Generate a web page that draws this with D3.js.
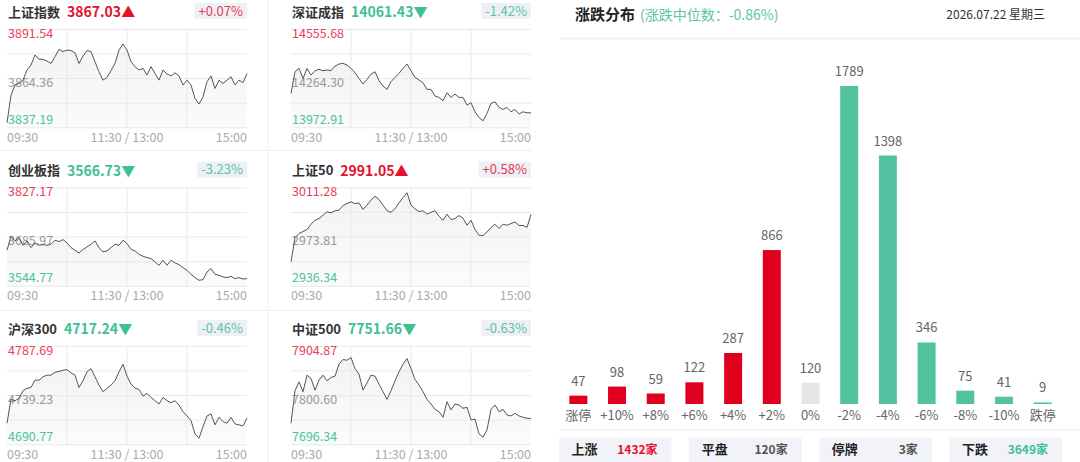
<!DOCTYPE html>
<html>
<head>
<meta charset="utf-8">
<script src="https://cdn.jsdelivr.net/npm/d3@7"></script>
<style>
  html, body { margin: 0; padding: 0; background: #fff; }
  svg { display: block; font-family: "Noto Sans CJK SC", "Noto Sans", sans-serif; }
</style>
</head>
<body>
<svg id="chart" width="1080" height="462"></svg>
<script>
// ---- index panels (minute data sampled every 4 minutes, 09:30 -> 15:00) ----
var indexNames = ["上证指数", "深证成指", "创业板指", "上证50", "沪深300", "中证500"];
var indexCloses = ["3867.03", "14061.43", "3566.73", "2991.05", "4717.24", "7751.66"];
var indexChanges = ["+0.07%", "-1.42%", "-3.23%", "+0.58%", "-0.46%", "-0.63%"];
var axisHigh = [3891.54, 14555.68, 3827.17, 3011.28, 4787.69, 7904.87];
var axisMid = [3864.36, 14264.30, 3685.97, 2973.81, 4739.23, 7800.60];
var axisLow = [3837.19, 13972.91, 3544.77, 2936.34, 4690.77, 7696.34];
var timeLabels = ["09:30", "11:30 / 13:00", "15:00"];

var shIndex = [3840.0, 3855.2, 3860.8, 3861.7, 3863.5, 3869.1, 3871.8, 3877.4, 3875.0, 3875.0,
  3874.0, 3872.7, 3876.4, 3880.5, 3879.2, 3880.1, 3879.8, 3878.6, 3872.7, 3876.8,
  3879.8, 3879.2, 3873.7, 3868.1, 3863.5, 3865.0, 3868.7, 3872.7, 3880.1, 3883.4,
  3880.1, 3873.7, 3870.9, 3869.1, 3870.0, 3866.3, 3870.9, 3867.2, 3863.5, 3869.1,
  3866.9, 3865.8, 3867.6, 3865.8, 3860.8, 3863.5, 3860.8, 3853.4, 3850.3, 3854.3,
  3862.6, 3865.8, 3858.9, 3863.5, 3861.7, 3863.5, 3865.4, 3860.8, 3863.5, 3862.1, 3867.2];
var szIndex = [14176.4, 14304.8, 14324.5, 14265.3, 14324.5, 14285.0, 14310.7, 14318.6, 14310.7, 14314.7,
  14310.7, 14338.4, 14350.2, 14354.2, 14344.3, 14324.5, 14298.9, 14265.3, 14231.7, 14259.4,
  14291.0, 14304.8, 14251.5, 14219.9, 14200.1, 14245.6, 14271.2, 14294.9, 14324.5, 14350.2,
  14310.7, 14271.2, 14255.4, 14239.6, 14200.1, 14200.1, 14160.6, 14152.7, 14132.9, 14180.3,
  14152.7, 14172.4, 14152.7, 14152.7, 14107.2, 14121.1, 14067.7, 14034.1, 14014.4, 14057.9,
  14117.1, 14127.0, 14093.4, 14081.6, 14093.4, 14067.7, 14081.6, 14053.9, 14067.7, 14061.8, 14061.4];
var cybIndex = [3648.2, 3688.4, 3675.0, 3684.5, 3662.5, 3675.0, 3655.8, 3669.2, 3662.5, 3664.4,
  3662.5, 3665.4, 3676.9, 3673.0, 3678.8, 3669.2, 3655.8, 3648.2, 3640.5, 3650.1,
  3657.7, 3665.4, 3675.0, 3655.8, 3643.4, 3646.3, 3655.8, 3665.4, 3662.5, 3676.9,
  3667.3, 3650.9, 3646.3, 3636.7, 3630.9, 3627.1, 3624.2, 3614.7, 3605.1, 3619.4,
  3605.1, 3619.4, 3611.8, 3607.0, 3598.4, 3590.7, 3579.2, 3569.7, 3562.0, 3563.9,
  3585.9, 3595.5, 3579.2, 3576.4, 3571.6, 3569.7, 3573.5, 3566.8, 3569.7, 3565.8, 3566.7];
var sz50Index = [2954.9, 2973.4, 2976.5, 2978.0, 2979.5, 2983.6, 2986.6, 2987.9, 2990.4, 2993.0,
  2992.2, 2993.8, 2994.3, 2997.8, 2999.3, 3000.6, 2999.3, 2999.8, 2994.8, 2998.1,
  3001.9, 3004.9, 3002.4, 2998.1, 2993.8, 2992.7, 2995.3, 2999.8, 3003.9, 3007.5,
  2998.1, 2995.3, 2993.2, 2993.8, 2991.2, 2992.7, 2993.8, 2989.7, 2986.6, 2991.2,
  2987.1, 2987.9, 2990.2, 2988.2, 2982.8, 2986.6, 2979.5, 2975.2, 2974.9, 2977.7,
  2981.1, 2983.6, 2980.3, 2983.6, 2982.8, 2984.1, 2985.3, 2982.6, 2982.6, 2981.1, 2991.1];
var hs300Index = [4712.0, 4735.5, 4734.2, 4736.5, 4744.0, 4746.3, 4747.2, 4754.4, 4754.4, 4757.7,
  4759.3, 4759.3, 4762.2, 4762.9, 4764.2, 4764.8, 4761.6, 4759.3, 4747.2, 4753.8,
  4762.6, 4765.8, 4757.7, 4749.5, 4743.0, 4746.3, 4749.5, 4753.8, 4762.6, 4770.1,
  4758.3, 4750.5, 4746.6, 4745.3, 4738.7, 4741.4, 4737.4, 4734.2, 4730.9, 4737.4,
  4734.2, 4732.2, 4734.2, 4729.9, 4723.4, 4719.2, 4714.6, 4701.5, 4697.3, 4708.7,
  4719.2, 4721.1, 4710.4, 4717.9, 4713.6, 4712.0, 4717.9, 4711.3, 4710.4, 4709.4, 4717.2];
var zz500Index = [7742.0, 7810.8, 7829.8, 7808.7, 7843.8, 7836.8, 7812.2, 7833.3, 7843.8, 7831.8,
  7838.9, 7841.7, 7867.0, 7876.8, 7875.4, 7881.0, 7857.8, 7845.9, 7812.2, 7827.6,
  7843.8, 7841.7, 7824.8, 7808.7, 7792.5, 7810.8, 7831.8, 7850.8, 7867.0, 7878.9,
  7857.8, 7834.7, 7822.7, 7808.7, 7792.5, 7782.7, 7771.5, 7766.5, 7754.6, 7787.6,
  7770.1, 7782.7, 7780.6, 7773.6, 7775.7, 7749.0, 7750.4, 7719.5, 7712.5, 7727.9,
  7771.5, 7780.6, 7766.5, 7771.5, 7759.5, 7757.4, 7763.0, 7757.4, 7754.6, 7752.5, 7751.7];
var indexSeries = [shIndex, szIndex, cybIndex, sz50Index, hs300Index, zz500Index];

// ---- rise / fall distribution ----
var distCategories = ["涨停", "+10%", "+8%", "+6%", "+4%", "+2%", "0%", "-2%", "-4%", "-6%", "-8%", "-10%", "跌停"];
var distCounts = [47, 98, 59, 122, 287, 866, 120, 1789, 1398, 346, 75, 41, 9];
var summaryLabels = ["上涨", "平盘", "停牌", "下跌"];
var summaryValues = ["1432家", "120家", "3家", "3649家"];
var medianText = "(涨跌中位数：-0.86%)";
var dateText = "2026.07.22 星期三";

var RED = "#e60f2d", GREEN = "#3fbf94";
var svg = d3.select("#chart");

var defs = svg.append("defs");
var grad = defs.append("linearGradient").attr("id", "areaFill")
  .attr("x1", 0).attr("y1", 0).attr("x2", 0).attr("y2", 1);
grad.append("stop").attr("offset", "0%").attr("stop-color", "#f3f3f3");
grad.append("stop").attr("offset", "100%").attr("stop-color", "#fbfbfb");

// Separators between the small panels
[150.5, 310.5].forEach(function (y) {
  svg.append("line").attr("x1", 0).attr("x2", 532).attr("y1", y).attr("y2", y)
    .attr("stroke", "#eeeeee");
});
svg.append("line").attr("x1", 268).attr("x2", 268).attr("y1", 0).attr("y2", 462)
  .attr("stroke", "#f0f0f0");

// Draws one little intraday panel.
function drawPanel(i) {
  var col = i % 2, row = Math.floor(i / 2);
  var left = col === 0 ? 7 : 291;
  var top = 29.3 + row * 158.5;
  var w = 240, h = 98.5;
  var up = indexChanges[i].charAt(0) === "+";
  var g = svg.append("g");

  var x = d3.scaleLinear().domain([0, 240]).range([left, left + w]);
  var y = d3.scaleLinear().domain([axisLow[i], axisHigh[i]]).range([top + h, top]);

  // area first so grid and labels stay visible on top of it
  var data = indexSeries[i];
  var area = d3.area().x(function (d, j) { return x(j * 4); })
    .y0(top + h).y1(function (d) { return y(d); });
  var line = d3.line().x(function (d, j) { return x(j * 4); })
    .y(function (d) { return y(d); });
  g.append("path").datum(data).attr("d", area).attr("fill", "url(#areaFill)");

  // grid
  for (var k = 0; k <= 4; k++) {
    g.append("line").attr("x1", left).attr("x2", left + w)
      .attr("y1", top + k * h / 4).attr("y2", top + k * h / 4)
      .attr("stroke", "#e9e9e9");
  }
  [60, 120, 180].forEach(function (m) {
    g.append("line").attr("x1", x(m)).attr("x2", x(m))
      .attr("y1", top).attr("y2", top + h).attr("stroke", "#e9e9e9");
  });

  // title row
  var t = g.append("text").attr("x", left + 1).attr("y", top - 17).attr("dy", "0.35em")
    .attr("font-size", 13).attr("font-weight", "bold").attr("fill", "#333")
    .text(indexNames[i]);
  var tw = t.node().getComputedTextLength();
  g.append("text").attr("x", left + 1 + tw + 7).attr("y", top - 17).attr("dy", "0.35em")
    .attr("font-size", 14).attr("font-weight", "bold").attr("fill", up ? RED : GREEN)
    .text(indexCloses[i] + (up ? "▲" : "▼"));

  var pct = g.append("text").attr("x", left + w - 4).attr("y", top - 18).attr("dy", "0.35em")
    .attr("text-anchor", "end").attr("font-size", 13)
    .attr("fill", up ? "#e83a52" : "#5cc4a2").text(indexChanges[i]);
  var pw = pct.node().getComputedTextLength();
  g.insert("rect", function () { return pct.node(); })
    .attr("x", left + w - pw - 8).attr("y", top - 26.3).attr("width", pw + 8).attr("height", 16)
    .attr("fill", "#eef0f5");

  // y labels
  g.append("text").attr("x", left + 1).attr("y", top + 8.5).attr("font-size", 12.5)
    .attr("fill", "#e8405a").text(axisHigh[i].toFixed(2));
  g.append("text").attr("x", left + 1).attr("y", top + h / 2 + 8).attr("font-size", 12.5)
    .attr("fill", "#999").text(axisMid[i].toFixed(2));
  g.append("text").attr("x", left + 1).attr("y", top + h - 4).attr("font-size", 12.5)
    .attr("fill", "#4cc39b").text(axisLow[i].toFixed(2));

  g.append("path").datum(data).attr("d", line).attr("fill", "none")
    .attr("stroke", "#555").attr("stroke-width", 1);

  // x labels
  var anchors = ["start", "middle", "end"];
  [0, 120, 240].forEach(function (m, j) {
    g.append("text").attr("x", x(m)).attr("y", top + 108).attr("dy", "0.35em")
      .attr("text-anchor", anchors[j]).attr("font-size", 12.5).attr("fill", "#aaa")
      .text(timeLabels[j]);
  });
}

for (var p = 0; p < indexNames.length; p++) {
  drawPanel(p);
}

// ---- Right side: rise / fall distribution ----
svg.append("text").attr("x", 575).attr("y", 15).attr("dy", "0.35em")
  .attr("font-size", 15).attr("font-weight", "bold").attr("fill", "#222").text("涨跌分布");
svg.append("text").attr("x", 640).attr("y", 15).attr("dy", "0.35em")
  .attr("font-size", 14).attr("fill", "#5cc4a2").text(medianText);
svg.append("text").attr("x", 1045).attr("y", 15).attr("dy", "0.35em").attr("text-anchor", "end")
  .attr("font-size", 12).attr("fill", "#333").text(dateText);
svg.append("line").attr("x1", 560).attr("x2", 1080).attr("y1", 38.5).attr("y2", 38.5)
  .attr("stroke", "#f2f2f2").attr("stroke-width", 2);

var xb = d3.scaleBand().domain(distCategories).range([559, 1062])
  .paddingInner(0.535).paddingOuter(0.2675);
var yb = d3.scaleLinear().domain([0, d3.max(distCounts)]).range([404, 86]);

function barColor(i) {
  if (i < 6) return "#e0001e";
  if (i === 6) return "#e6e6e6";
  return "#52c2a1";
}

var bars = svg.append("g");
bars.selectAll("rect").data(distCounts).enter().append("rect")
  .attr("x", function (d, i) { return xb(distCategories[i]); })
  .attr("y", function (d) { return yb(d); })
  .attr("width", xb.bandwidth())
  .attr("height", function (d) { return yb(0) - yb(d); })
  .attr("fill", function (d, i) { return barColor(i); });

bars.selectAll("text.val").data(distCounts).enter().append("text").attr("class", "val")
  .attr("x", function (d, i) { return xb(distCategories[i]) + xb.bandwidth() / 2; })
  .attr("y", function (d) { return yb(d) - 10; })
  .attr("text-anchor", "middle").attr("font-size", 13).attr("fill", "#666")
  .text(function (d) { return d; });

bars.selectAll("text.cat").data(distCategories).enter().append("text").attr("class", "cat")
  .attr("x", function (d) { return xb(d) + xb.bandwidth() / 2; })
  .attr("y", 415.7).attr("dy", "0.35em")
  .attr("text-anchor", "middle").attr("font-size", 13).attr("fill", "#666")
  .text(function (d) { return d; });

svg.append("line").attr("x1", 560).attr("x2", 1080).attr("y1", 430).attr("y2", 430)
  .attr("stroke", "#f0f0f0").attr("stroke-width", 1.5);

// Summary boxes along the bottom
var xs = d3.scaleBand().domain(summaryLabels).range([559, 1062]).paddingInner(0.135);
var sumColors = [RED, "#555", "#555", GREEN];
summaryLabels.forEach(function (lab, i) {
  var bx = xs(lab);
  svg.append("rect").attr("x", bx).attr("y", 437.7).attr("width", xs.bandwidth()).attr("height", 30)
    .attr("fill", "#f2f3f8");
  svg.append("text").attr("x", bx + 12.5).attr("y", 449.3).attr("dy", "0.35em")
    .attr("font-size", 13).attr("font-weight", "bold").attr("fill", "#222").text(lab);
  svg.append("text").attr("x", bx + xs.bandwidth() - 14).attr("y", 449.3).attr("dy", "0.35em")
    .attr("text-anchor", "end").attr("font-size", 12).attr("font-weight", "bold")
    .attr("fill", sumColors[i]).text(summaryValues[i]);
});
</script>
</body>
</html>
